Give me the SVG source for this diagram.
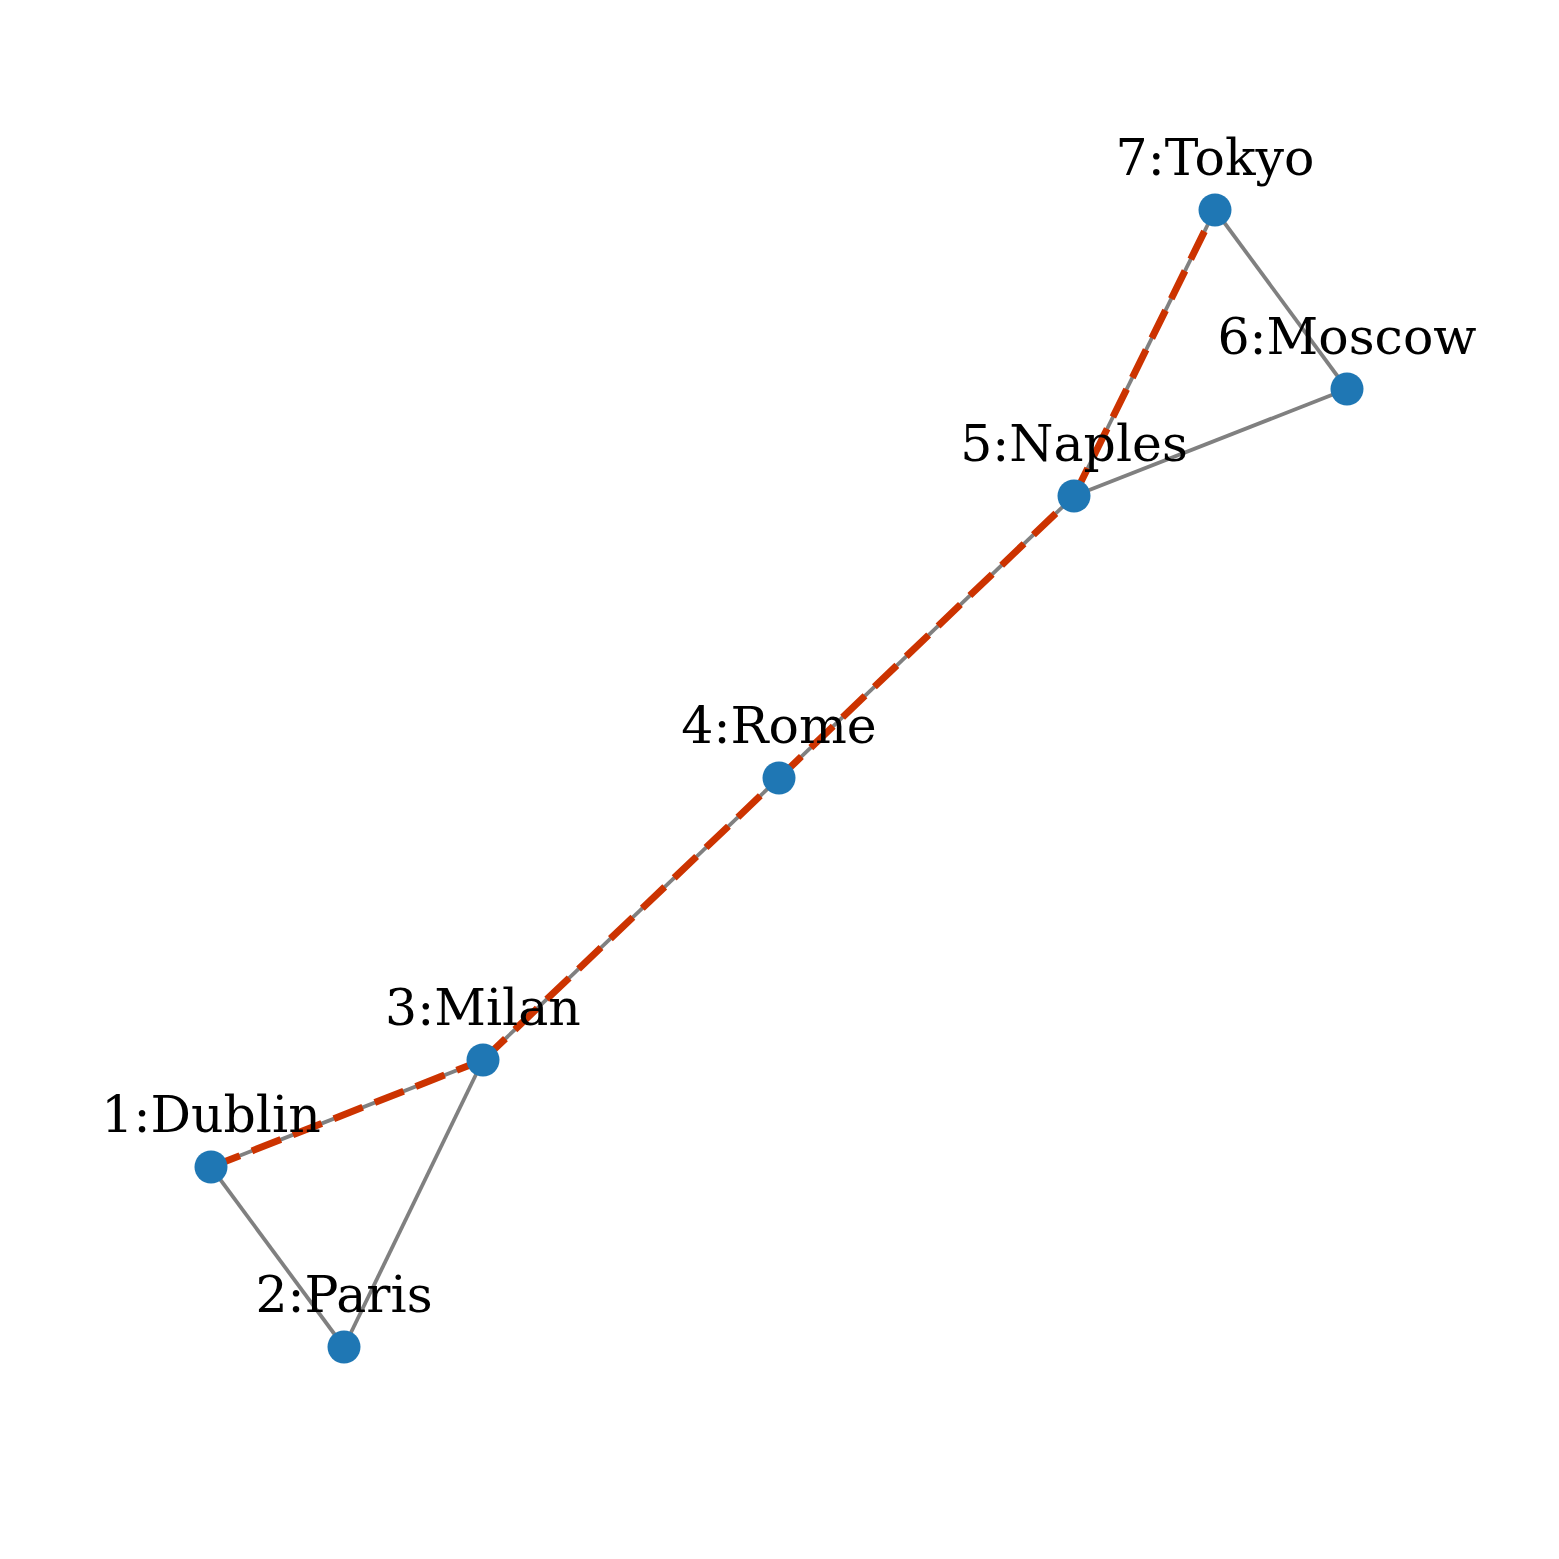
<svg xmlns="http://www.w3.org/2000/svg" width="1559" height="1559" viewBox="0 0 1559 1559">
<style>
.edge{stroke:#808080;stroke-width:3.8;fill:none}
.path{stroke:#cc3300;stroke-width:7;fill:none;stroke-dasharray:31 13}
.node{fill:#1f77b4}
.lbl{font-family:"DejaVu Serif",serif;font-size:50.5px;fill:#000;text-anchor:middle}
</style>
<rect width="1559" height="1559" fill="#fff"/>
<g id="connectors">
<line class="edge" x1="211" y1="1167" x2="344" y2="1347"/>
<line class="edge" x1="211" y1="1167" x2="483" y2="1060"/>
<line class="edge" x1="344" y1="1347" x2="483" y2="1060"/>
<line class="edge" x1="483" y1="1060" x2="779" y2="778"/>
<line class="edge" x1="779" y1="778" x2="1074" y2="496"/>
<line class="edge" x1="1074" y1="496" x2="1347" y2="389"/>
<line class="edge" x1="1074" y1="496" x2="1215" y2="210"/>
<line class="edge" x1="1347" y1="389" x2="1215" y2="210"/>
<line class="path" x1="211" y1="1167" x2="483" y2="1060"/>
<line class="path" x1="483" y1="1060" x2="779" y2="778"/>
<line class="path" x1="779" y1="778" x2="1074" y2="496"/>
<line class="path" x1="1074" y1="496" x2="1215" y2="210"/>
</g>
<g id="n1"><circle class="node" cx="211" cy="1167" r="16.5"/><text class="lbl" x="211" y="1132">1:Dublin</text></g>
<g id="n2"><circle class="node" cx="344" cy="1347" r="16.5"/><text class="lbl" x="344" y="1312">2:Paris</text></g>
<g id="n3"><circle class="node" cx="483" cy="1060" r="16.5"/><text class="lbl" x="483" y="1025">3:Milan</text></g>
<g id="n4"><circle class="node" cx="779" cy="778" r="16.5"/><text class="lbl" x="779" y="743">4:Rome</text></g>
<g id="n5"><circle class="node" cx="1074" cy="496" r="16.5"/><text class="lbl" x="1074" y="461">5:Naples</text></g>
<g id="n6"><circle class="node" cx="1347" cy="389" r="16.5"/><text class="lbl" x="1347" y="354">6:Moscow</text></g>
<g id="n7"><circle class="node" cx="1215" cy="210" r="16.5"/><text class="lbl" x="1215" y="175">7:Tokyo</text></g>
</svg>
